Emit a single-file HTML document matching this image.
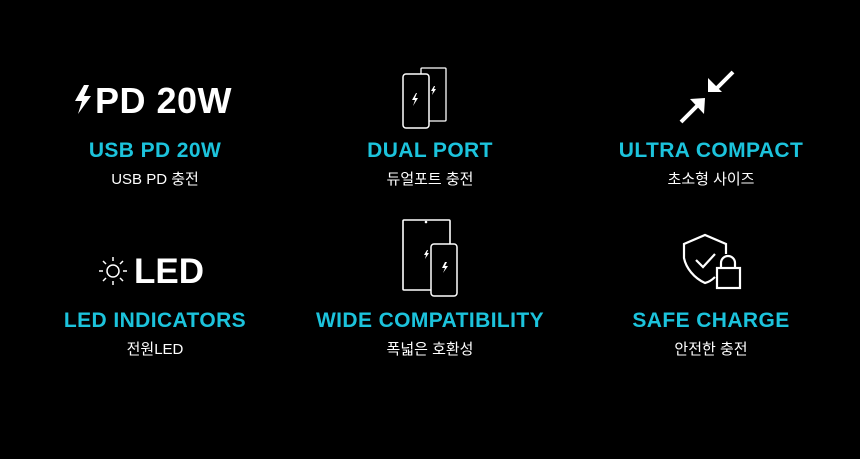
<!DOCTYPE html>
<html><head><meta charset="utf-8"><style>
html,body{margin:0;padding:0;background:#000;}
body{width:860px;height:459px;position:relative;overflow:hidden;font-family:"Liberation Sans","Noto Sans CJK KR",sans-serif;}
.t{position:absolute;width:300px;text-align:center;color:#1cc3dc;font-weight:bold;font-size:21px;letter-spacing:0.4px;}
.s{position:absolute;width:300px;text-align:center;color:#fff;font-size:15px;}
svg{position:absolute;left:0;top:0;}
.big{position:absolute;color:#fff;font-weight:bold;}
</style></head><body>
<div class="big" style="left:95px;top:80px;font-size:36px;letter-spacing:0.5px;">PD 20W</div>
<div class="big" style="left:134px;top:252px;font-size:35px;">LED</div>
<svg width="860" height="459" fill="none" stroke="#fff">
<path d="M84 85 L75 101 L82 101 L78 114 L91 96 L84 96 L89 85Z" fill="#fff" stroke="none"/>
<rect x="421" y="68" width="25" height="53" rx="1" stroke-width="1.3"/>
<rect x="403" y="74" width="26" height="54" rx="3" fill="#000" stroke-width="1.5"/>
<path d="M416 93 l-4 7 h3 l-2 6 l5 -8 h-3 l2 -5z" fill="#fff" stroke="none"/>
<path d="M434 86 l-3 5 h2 l-1 4 l4 -6 h-2 l1 -3z" fill="#fff" stroke="none"/>
<path d="M681 122 L697 106" stroke-width="4"/>
<path d="M705 98 L690 99 L704 114Z" fill="#fff" stroke="none"/>
<path d="M733 72 L717 88" stroke-width="4"/>
<path d="M708 92 L722 92 L708 78Z" fill="#fff" stroke="none"/>
<circle cx="113" cy="271" r="6" stroke-width="1.5"/>
<g stroke-width="1.5">
<line x1="113" y1="257" x2="113" y2="261"/><line x1="113" y1="281" x2="113" y2="285"/>
<line x1="99" y1="271" x2="103" y2="271"/><line x1="123" y1="271" x2="127" y2="271"/>
<line x1="103" y1="261" x2="106" y2="264"/><line x1="120" y1="278" x2="123" y2="281"/>
<line x1="123" y1="261" x2="120" y2="264"/><line x1="106" y1="278" x2="103" y2="281"/>
</g>
<rect x="403" y="220" width="47" height="70" rx="1" stroke-width="1.6"/>
<circle cx="426" cy="222" r="0.8" fill="#fff"/>
<rect x="431" y="244" width="26" height="52" rx="3" fill="#000" stroke-width="1.5"/>
<path d="M427 250 l-3 5 h2 l-1 4 l4 -6 h-2 l1 -3z" fill="#fff" stroke="none"/>
<path d="M445 262 l-3 6 h3 l-2 5 l5 -7 h-3 l2 -4z" fill="#fff" stroke="none"/>
<path d="M715 277 C712 280 709 282 705 283 C694 278 686 268 684 258 L684 244 L705 235 L726 244 L726 254" stroke-width="2.2"/>
<path d="M696 260 L703 267 L715 254" stroke-width="2.2"/>
<rect x="717" y="268" width="23" height="20" stroke-width="2.2"/>
<path d="M721 268 v-5 a7 7 0 0 1 14 0 v5" stroke-width="2.2"/>
</svg>
<div class="t" style="left:5px;top:139px;">USB PD 20W</div>
<div class="s" style="left:5px;top:168px;">USB PD 충전</div>
<div class="t" style="left:280px;top:139px;">DUAL PORT</div>
<div class="s" style="left:280px;top:168px;">듀얼포트 충전</div>
<div class="t" style="left:561px;top:139px;">ULTRA COMPACT</div>
<div class="s" style="left:561px;top:168px;">초소형 사이즈</div>
<div class="t" style="left:5px;top:309px;">LED INDICATORS</div>
<div class="s" style="left:5px;top:338px;">전원LED</div>
<div class="t" style="left:280px;top:309px;">WIDE COMPATIBILITY</div>
<div class="s" style="left:280px;top:338px;">폭넓은 호환성</div>
<div class="t" style="left:561px;top:309px;">SAFE CHARGE</div>
<div class="s" style="left:561px;top:338px;">안전한 충전</div>
</body></html>
